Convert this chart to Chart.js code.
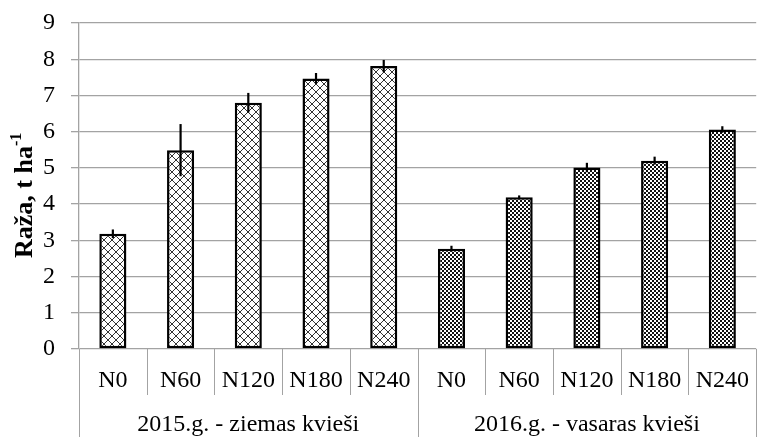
<!DOCTYPE html>
<html><head><meta charset="utf-8">
<script src="https://cdn.jsdelivr.net/npm/chart.js@4/dist/chart.umd.min.js"></script>
<style>html,body{margin:0;padding:0;overflow:hidden;background:#fff}</style>
</head><body>
<canvas id="c" width="766" height="437"></canvas>
<script>
// Nitrogen rates (lower axis level) and trial seasons (upper axis level)
const rates = ['N0', 'N60', 'N120', 'N180', 'N240', 'N0', 'N60', 'N120', 'N180', 'N240'];
const seasons = ['2015.g. - ziemas kvieši', '2016.g. - vasaras kvieši'];
// Grain yield, t/ha, and standard error for each rate
const yieldWinter = [3.18, 5.49, 6.80, 7.47, 7.81];
const yieldSpring = [2.77, 4.19, 5.01, 5.20, 6.06];
const errWinter = [0.12, 0.72, 0.27, 0.15, 0.17];
const errSpring = [0.08, 0.05, 0.13, 0.11, 0.09];
const yTicks = [0, 1, 2, 3, 4, 5, 6, 7, 8, 9];

const values = yieldWinter.concat(yieldSpring);
const errors = errWinter.concat(errSpring);
const SERIF = "'Liberation Serif', 'Times New Roman', serif";
const GRID = '#a3a3a3';
const FS = 24;

// Fill patterns: wide diagonal cross for winter wheat, small checkerboard for spring wheat
function pixelPattern(size, isDark, dark) {
  const cv = document.createElement('canvas');
  cv.width = size; cv.height = size;
  const g = cv.getContext('2d');
  g.fillStyle = '#fff'; g.fillRect(0, 0, size, size);
  g.fillStyle = dark;
  for (let y = 0; y < size; y++)
    for (let x = 0; x < size; x++)
      if (isDark(x, y)) g.fillRect(x, y, 1, 1);
  return g.createPattern(cv, 'repeat');
}
const ctx = document.getElementById('c').getContext('2d');
const crossHatch = pixelPattern(8, (x, y) => ((x - y + 8) % 8 === 0) || ((x + y) % 8 === 7), '#333');
const checker = pixelPattern(4, (x, y) => (((x >> 1) + (y >> 1)) % 2 === 0), '#111');
const fills = values.map((v, i) => i < 5 ? crossHatch : checker);

const decorations = {
  id: 'decorations',
  afterDatasetsDraw(chart) {
    const c = chart.ctx, ys = chart.scales.y;
    // error bars
    const meta = chart.getDatasetMeta(0);
    c.save();
    c.strokeStyle = '#000'; c.lineWidth = 2.2;
    meta.data.forEach((bar, i) => {
      c.beginPath();
      c.moveTo(bar.x, ys.getPixelForValue(values[i] + errors[i]));
      c.lineTo(bar.x, ys.getPixelForValue(values[i] - errors[i]));
      c.stroke();
    });
    c.restore();
  },
  afterDraw(chart) {
    const c = chart.ctx, xs = chart.scales.x, area = chart.chartArea;
    const H = chart.height;
    const half = (xs.getPixelForValue(1) - xs.getPixelForValue(0)) / 2;
    c.save();
    c.strokeStyle = GRID; c.lineWidth = 1;
    for (let i = 0; i <= rates.length; i++) {
      const x = Math.round(xs.getPixelForValue(i) - half) + 0.5;
      const full = (i % 5 === 0);
      c.beginPath();
      c.moveTo(x, area.bottom);
      c.lineTo(x, full ? H : area.bottom + 46);
      c.stroke();
    }
    // season labels
    c.fillStyle = '#000';
    c.font = FS + 'px ' + SERIF;
    c.textAlign = 'center'; c.textBaseline = 'alphabetic';
    seasons.forEach((s, k) => {
      const x0 = xs.getPixelForValue(k * 5) - half;
      const x1 = xs.getPixelForValue(k * 5 + 4) + half;
      c.fillText(s, (x0 + x1) / 2, 431);
    });
    // y axis title with superscript
    c.translate(32, 258);
    c.rotate(-Math.PI / 2);
    c.textAlign = 'left';
    c.font = 'bold 26px ' + SERIF;
    const main = 'Raža, t ha';
    c.fillText(main, 0, 0);
    const w = c.measureText(main).width;
    c.font = 'bold 16px ' + SERIF;
    c.fillText('-1', w, -11);
    c.restore();
  }
};

new Chart(ctx, {
  type: 'bar',
  data: {
    labels: rates,
    datasets: [{
      data: values,
      backgroundColor: fills,
      borderColor: '#000',
      borderWidth: 2.5,
      borderSkipped: false,
      categoryPercentage: 1,
      barPercentage: 0.4
    }]
  },
  options: {
    responsive: false,
    animation: false,
    devicePixelRatio: 1,
    layout: { padding: { top: 23, left: 0, right: 0, bottom: 0 } },
    plugins: { legend: { display: false }, tooltip: { enabled: false } },
    scales: {
      x: {
        grid: { display: true, drawOnChartArea: false, drawTicks: false, color: GRID },
        border: { display: false },
        ticks: { color: '#000', font: { family: SERIF, size: FS }, padding: 17, maxRotation: 0, autoSkip: false },
        afterFit(s) { s.height = 88; }
      },
      y: {
        min: 0, max: 9,
        afterBuildTicks(s) { s.ticks = yTicks.map(v => ({ value: v })); },
        grid: { color: GRID, lineWidth: 1.3, tickLength: 8, drawTicks: true },
        border: { display: true, color: GRID, width: 1.3 },
        ticks: { color: '#000', font: { family: SERIF, size: FS }, padding: 16 },
        afterFit(s) { s.width = 79; s.paddingTop = 0; s.paddingBottom = 0; }
      }
    }
  },
  plugins: [decorations]
});
</script>
</body></html>
